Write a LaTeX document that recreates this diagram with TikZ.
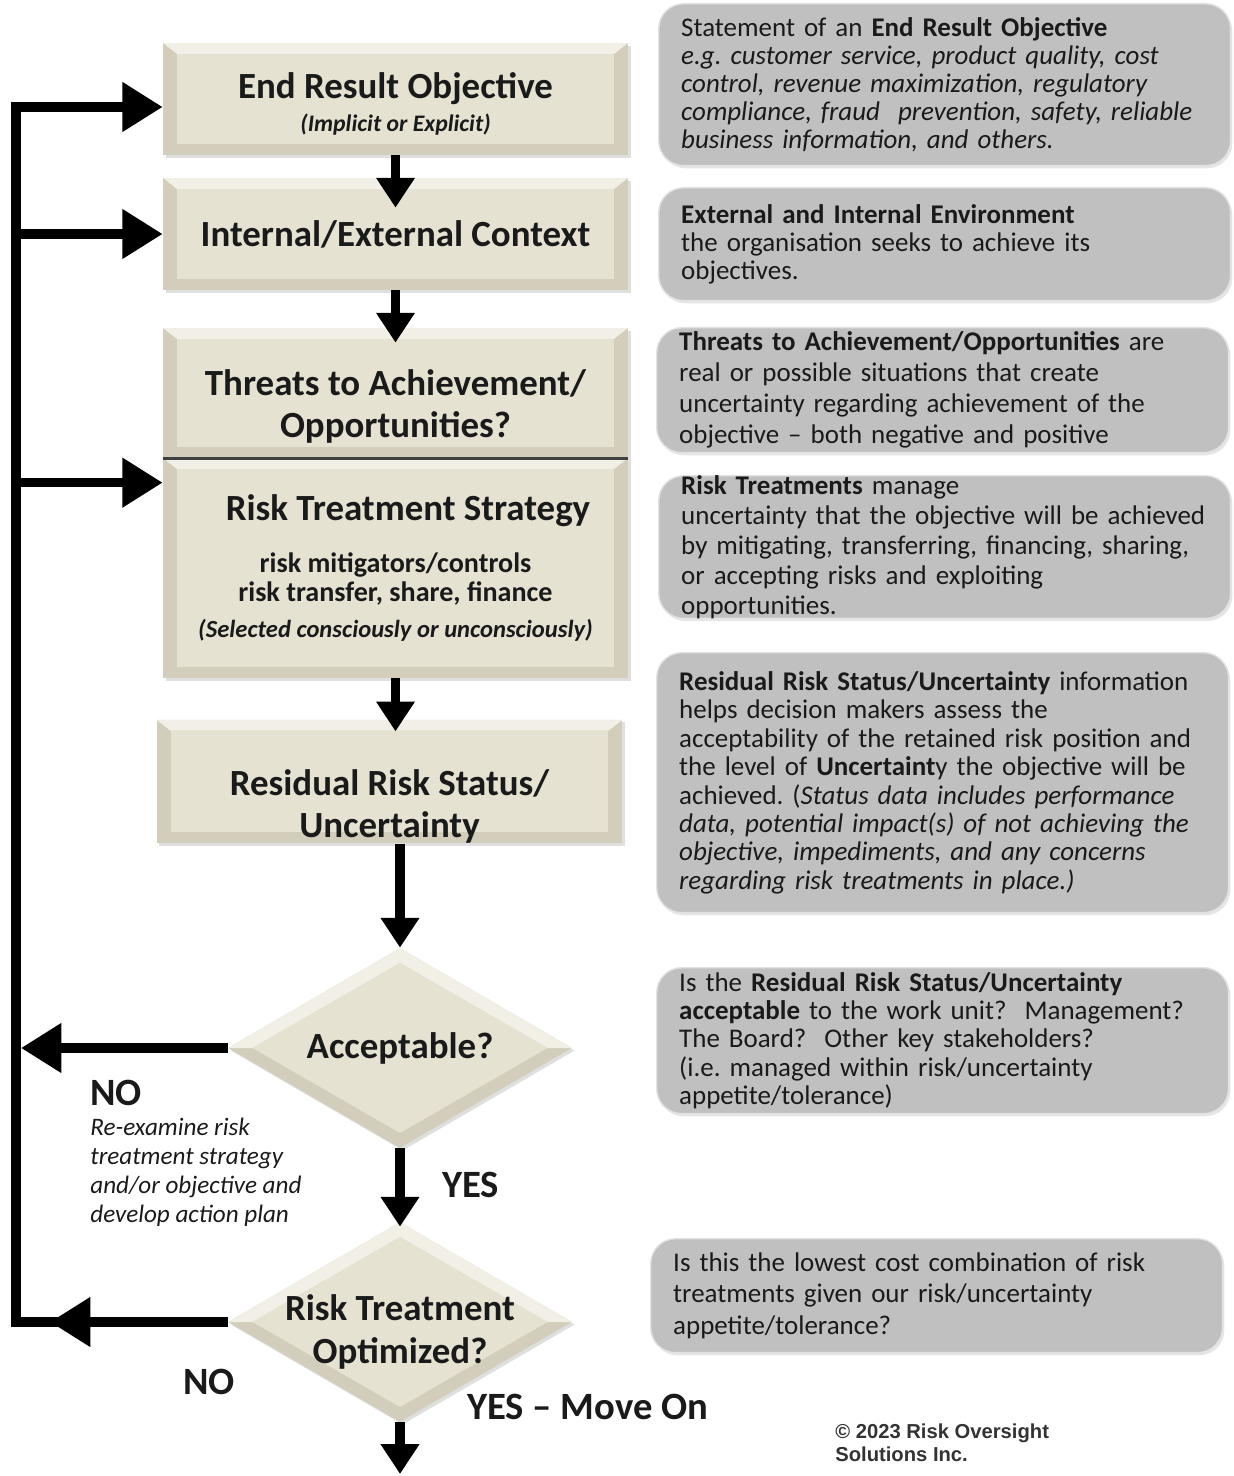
\documentclass[tikz,border=0pt]{standalone}
\usepackage{fontspec}
\setmainfont{Carlito}
\newfontfamily\arialfont{Liberation Sans}
\usepackage{tikz}
\usetikzlibrary{arrows.meta, shapes.geometric, shadows}
\definecolor{beigeface}{RGB}{229, 226, 210}
\definecolor{beigetop}{RGB}{242, 240, 230}
\definecolor{beigeside}{RGB}{210, 206, 187}
\definecolor{notegray}{RGB}{192, 192, 192}
\definecolor{noteedge}{RGB}{226, 226, 226}
\definecolor{inktext}{RGB}{26, 26, 26}
\frenchspacing

\tikzset{
  stepbox/.style={rectangle, fill=beigeside, inner sep=0pt, align=center, text=inktext,
    drop shadow={shadow xshift=1.5pt, shadow yshift=-1.5pt, opacity=0.25},
    path picture={
      \fill[beigetop] (path picture bounding box.north west) -- (path picture bounding box.north east)
        -- ([shift={(-0.28cm,-0.22cm)}]path picture bounding box.north east)
        -- ([shift={(0.28cm,-0.22cm)}]path picture bounding box.north west) -- cycle;
      \fill[beigeface] ([shift={(0.28cm,-0.22cm)}]path picture bounding box.north west)
        rectangle ([shift={(-0.28cm,0.22cm)}]path picture bounding box.south east);}},
  decision/.style={diamond, fill=beigeside, minimum width=6.88cm, minimum height=4cm, inner sep=0pt,
    drop shadow={shadow xshift=1.5pt, shadow yshift=-1.5pt, opacity=0.25},
    path picture={
      \fill[beigetop] ([xshift=-3.44cm]path picture bounding box.center) -- ([yshift=2cm]path picture bounding box.center)
        -- ([xshift=3.44cm]path picture bounding box.center) -- ([xshift=2.95cm]path picture bounding box.center)
        -- ([yshift=1.7cm]path picture bounding box.center) -- ([xshift=-2.95cm]path picture bounding box.center) -- cycle;
      \fill[beigeface] ([xshift=-2.95cm]path picture bounding box.center) -- ([yshift=1.7cm]path picture bounding box.center)
        -- ([xshift=2.95cm]path picture bounding box.center) -- ([yshift=-1.7cm]path picture bounding box.center) -- cycle;}},
  notebox/.style={rectangle, rounded corners=0.5cm, fill=notegray, draw=noteedge, line width=0.8pt,
    anchor=north west, align=left, text width=10.54cm, inner xsep=0.45cm, inner ysep=0pt, text=inktext,
    drop shadow={shadow xshift=1pt, shadow yshift=-1.5pt, opacity=0.2}},
  downarrow/.style={line width=5.5pt, -{Triangle[width=21pt,length=17pt]}},
  sidearrow/.style={line width=5.5pt, -{Triangle[width=27pt,length=23pt]}},
  flowlabel/.style={font=\fontsize{22}{26}\selectfont\bfseries, text=inktext, inner sep=0pt, anchor=west}
}

\begin{document}
\begin{tikzpicture}[x=0.02cm, y=-0.02cm]
  \def\stepfont{\fontsize{21}{24}\selectfont\bfseries}
  \def\subfont{\fontsize{16}{19}\selectfont}
  \def\asidefont{\fontsize{14}{16}\selectfont\bfseries\itshape}
  \def\notefont#1{\fontsize{15.35}{#1}\selectfont}
  \def\lift#1{\rule{0pt}{#1}}
  \useasboundingbox (0,0) rectangle (1233,1476);

  % Process column
  \node[stepbox, minimum width=9.3cm, minimum height=2.24cm, font=\stepfont] (objective) at (395.5,99)
    {\lift{20.5pt}End Result Objective\\[-5pt]{\fontsize{13.5}{16}\selectfont\bfseries\itshape (Implicit or Explicit)}};
  \node[stepbox, minimum width=9.3cm, minimum height=2.24cm, font=\stepfont] (context) at (395.5,234)
    {Internal/External Context};
  \node[stepbox, minimum width=9.3cm, minimum height=2.6cm, font=\stepfont] (threats) at (395.5,393)
    {\lift{30.5pt}Threats to Achievement/\\Opportunities?};
  \node[stepbox, minimum width=9.3cm, minimum height=4.4cm, font=\stepfont] (strategy) at (395.5,568)
    {\hspace*{0.5cm}Risk Treatment Strategy\\[5.5pt]{\subfont risk mitigators/controls}\\[-7pt]
     {\subfont risk transfer, share, finance}\\[-3.6pt]{\asidefont (Selected consciously or unconsciously)}};
  \draw[line width=1.6pt, black!75] (threats.south west) -- (threats.south east);
  \node[stepbox, minimum width=9.32cm, minimum height=2.46cm, font=\stepfont] (residual) at (389.5,781.5)
    {\lift{43pt}Residual Risk Status/\\Uncertainty};

  % Decisions
  \node[decision, label={[font=\stepfont, text=inktext]center:Acceptable?}] (accept) at (400,1048) {};
  \node[decision, label={[font=\stepfont, text=inktext, align=center, yshift=-0.2cm]center:Risk Treatment\\Optimized?}] (optim) at (400,1322) {};

  % Main flow
  \draw[downarrow, shorten >=-0.6cm] (objective.south) -- (context.north);
  \draw[downarrow, shorten >=-0.3cm] (context.south) -- (threats.north);
  \draw[downarrow, shorten >=-0.24cm] (strategy.south) -- (strategy.south |- residual.north);
  \draw[downarrow] (accept.north |- residual.south) -- (accept.north);
  \draw[downarrow, shorten >=-0.1cm] (accept.south) -- (optim.north);
  \coordinate (moveon) at (400,1474);
  \draw[downarrow] (optim.south) -- (moveon);

  % Feedback loop
  \coordinate (looptop) at (16,107);
  \coordinate (loopbottom) at (16,1322);
  \coordinate (backtip) at (50,1322);
  \coordinate (rtsentry) at ([yshift=-0.5cm]strategy.north west);
  \draw[sidearrow] (optim.west) -- (loopbottom) -- (looptop) -- (looptop -| objective.west);
  \draw[sidearrow] (optim.west) -- (backtip);
  \draw[sidearrow] (looptop |- context.west) -- (context.west);
  \draw[sidearrow] (looptop |- rtsentry) -- (rtsentry);
  \draw[sidearrow] (accept.west) -- ([xshift=0.1cm]looptop |- accept.west);

  % Branch labels
  \node[flowlabel] (rejectno) at (90,1093) {NO};
  \node[anchor=north west, align=left, inner sep=0pt, text=inktext,
    font=\fontsize{14.3}{16.4}\selectfont\itshape] (rejectnote) at (90,1118)
    {Re-examine risk\\treatment strategy\\and/or objective and\\develop action plan};
  \node[flowlabel] (acceptyes) at (442,1185) {YES};
  \node[flowlabel] (optimno) at (183,1382) {NO};
  \node[flowlabel] (optimyes) at (467,1407) {YES -- Move On};

  % Notes column
  \node[notebox, minimum height=3.24cm, font=\notefont{15.9}] (objnote) at (658,3)
    {Statement of an \textbf{End Result Objective}\\
     \textit{e.g. customer service, product quality, cost}\\
     \textit{control, revenue maximization, regulatory}\\
     \textit{compliance, fraud\ \ prevention, safety, reliable}\\
     \textit{business information, and others.}};
  \node[notebox, minimum height=2.26cm, font=\notefont{15.9}] (ctxnote) at (658,187)
    {\textbf{External and Internal Environment}\\
     the organisation seeks to achieve its\\
     objectives.};
  \node[notebox, minimum height=2.5cm, font=\notefont{17.6}] (threatnote) at (656,327)
    {\textbf{Threats to Achievement/Opportunities} are\\
     real or possible situations that create\\
     uncertainty regarding achievement of the\\
     objective -- both negative and positive};
  \node[notebox, minimum height=2.76cm, font=\notefont{17}] (rtsnote) at (658,475)
    {\textbf{Risk Treatments} manage\\
     uncertainty that the objective will be achieved\\
     by mitigating, transferring, financing, sharing,\\
     or accepting risks and exploiting\\
     opportunities.};
  \node[notebox, minimum height=5.2cm, font=\notefont{16.2}] (residnote) at (656,652)
    {\textbf{Residual Risk Status/Uncertainty} information\\
     helps decision makers assess the\\
     acceptability of the retained risk position and\\
     the level of \textbf{Uncertaint}y the objective will be\\
     achieved. (\textit{Status data includes performance}\\
     \textit{data, potential impact(s) of not achieving the}\\
     \textit{objective, impediments, and any concerns}\\
     \textit{regarding risk treatments in place.)}};
  \node[notebox, minimum height=2.92cm, font=\notefont{16.2}] (acceptnote) at (656,967)
    {Is the \textbf{Residual Risk Status/Uncertainty}\\
     \textbf{acceptable} to the work unit?\ \ Management?\\
     The Board?\ \ Other key stakeholders?\\
     (i.e. managed within risk/uncertainty\\
     appetite/tolerance)};
  \node[notebox, minimum height=2.28cm, font=\notefont{18.1}] (optimnote) at (650,1238)
    {Is this the lowest cost combination of risk\\
     treatments given our risk/uncertainty\\
     appetite/tolerance?};

  % Copyright
  \node[anchor=north west, align=left, inner sep=0pt, text=black!80,
    font=\arialfont\bfseries\fontsize{11.5}{13.6}\selectfont] (copyright) at (835,1423)
    {\textcopyright{} 2023 Risk Oversight\\Solutions Inc.};
\end{tikzpicture}
\end{document}
